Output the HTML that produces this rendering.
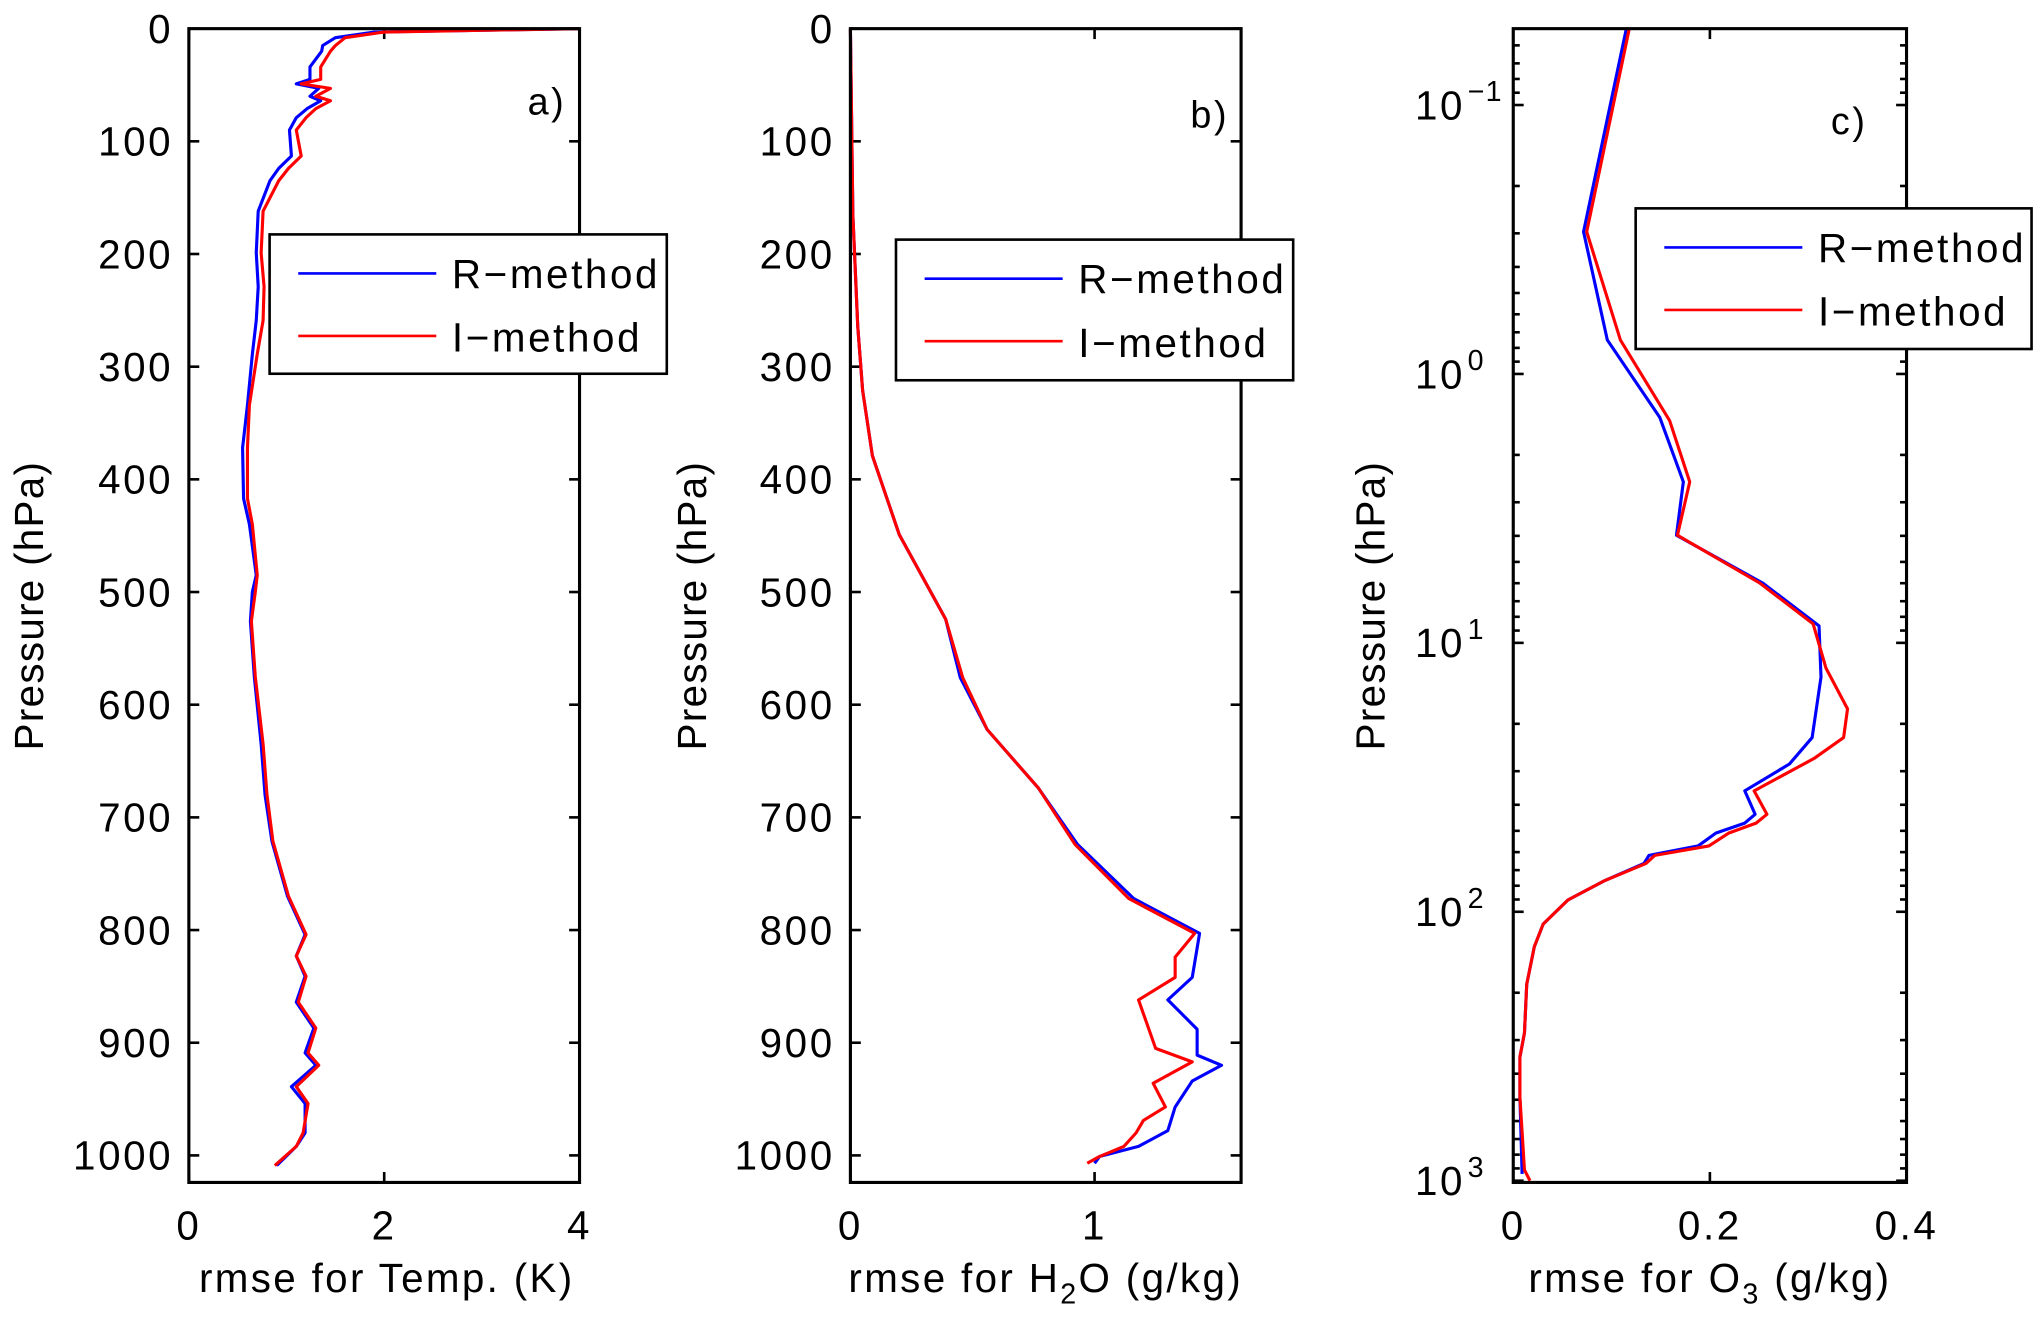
<!DOCTYPE html>
<html><head><meta charset="utf-8"><style>
html,body{margin:0;padding:0;background:#fff;}
svg{display:block;}
text{font-family:"Liberation Sans",sans-serif;fill:#000;}
</style></head><body>
<svg id="fig" width="2042" height="1324" viewBox="0 0 1568 1016.7" xmlns="http://www.w3.org/2000/svg"></svg>
<script>
// Panel a: temperature
const aP = [0,3,8,15,20,34,45,49,53,60,64,71,79,90,113,124,135,162,199,229,259,289,334,372,417,440,485,500,526,575,635,680,721,770,804,823,841,864,887,909,920,939,954,980,992,1009];
const aR = [4.0,1.9,1.5,1.37,1.36,1.24,1.24,1.1,1.33,1.24,1.35,1.21,1.1,1.03,1.05,0.92,0.83,0.71,0.69,0.71,0.69,0.65,0.6,0.55,0.56,0.62,0.69,0.65,0.63,0.67,0.74,0.78,0.85,1.01,1.19,1.1,1.19,1.1,1.28,1.19,1.3,1.05,1.19,1.19,1.1,0.9];
const aI = [4.0,2.0,1.6,1.5,1.45,1.35,1.35,1.15,1.45,1.3,1.45,1.3,1.2,1.1,1.15,1.02,0.92,0.76,0.74,0.77,0.76,0.7,0.62,0.6,0.6,0.65,0.7,0.68,0.64,0.68,0.76,0.8,0.86,1.02,1.2,1.1,1.2,1.12,1.3,1.22,1.33,1.1,1.22,1.17,1.1,0.88];
// Panel b: H2O
const bPR = [0,165,264,321,379,449,524,576,622,674,724,772,803,842,862,888,911,920,934,957,978,992,1001,1007];
const bR = [0,0.01,0.03,0.05,0.09,0.2,0.39,0.45,0.56,0.77,0.93,1.16,1.43,1.4,1.3,1.42,1.42,1.52,1.4,1.33,1.3,1.18,1.02,1.0];
const bPI = [0,165,264,321,379,449,524,576,622,674,724,772,803,824,842,862,905,917,936,957,969,980,992,1001,1007];
const bI = [0,0.01,0.03,0.05,0.09,0.2,0.39,0.46,0.56,0.77,0.92,1.14,1.41,1.33,1.33,1.18,1.25,1.4,1.24,1.29,1.2,1.17,1.12,1.02,0.97];
// Panel c: O3 (log pressure)
const cPR = [0.052,0.296,0.748,1.45,2.52,3.98,6.0,8.65,13.4,22.5,28.2,35.5,43.4,46.8,51,56.9,61.7,66.1,76.9,90.4,111,135,186,282,347,490,944];
const cR = [0.115,0.0715,0.0957,0.149,0.173,0.166,0.254,0.311,0.313,0.304,0.281,0.2355,0.246,0.2355,0.206,0.188,0.138,0.133,0.092,0.0556,0.0305,0.0214,0.0137,0.0114,0.0068,0.0068,0.009];
const cPI = [0.052,0.296,0.748,1.49,2.52,3.98,6.0,8.5,12.4,17.6,22.5,26.9,35.5,43.4,46.8,51,56.9,61.7,66.1,76.9,90.4,111,135,186,282,347,490,912,1000];
const cI = [0.118,0.0747,0.109,0.159,0.1795,0.167,0.251,0.305,0.318,0.340,0.336,0.306,0.245,0.258,0.247,0.219,0.199,0.144,0.135,0.092,0.0556,0.0305,0.0214,0.0137,0.0114,0.0068,0.0068,0.0114,0.017];
const aXTicks = [0,2,4];
const bXTicks = [0,1];
const cXTicks = [0,0.2,0.4];
const linTicks = [0,100,200,300,400,500,600,700,800,900,1000];
const logDecades = [-1,0,1,2,3];

const NS='http://www.w3.org/2000/svg';
const svg=document.getElementById('fig');
function el(tag,attrs,parent){const e=document.createElementNS(NS,tag);for(const k in attrs)e.setAttribute(k,attrs[k]);(parent||svg).appendChild(e);return e;}

const Y0=22,Y1=908;
function makeLin(x0,x1,xmax){return {x:v=>x0+(v/xmax)*(x1-x0),y:p=>Y0+(p/1024)*(Y1-Y0)};}
function makeLog(x0,x1,xmax,pmin,pmax){const l0=Math.log10(pmin),l1=Math.log10(pmax);return {x:v=>x0+(v/xmax)*(x1-x0),y:p=>Y0+(Math.log10(p)-l0)/(l1-l0)*(Y1-Y0)};}

function series(g,sc,ps,vs,color,name){
  let d='';ps.forEach((p,i)=>{d+=(i?'L':'M')+sc.x(vs[i]).toFixed(2)+','+sc.y(p).toFixed(2);});
  const path=el('path',{d:d,fill:'none',stroke:color,'stroke-width':2.4,'stroke-linejoin':'round'},g);
  
  
}
function axesBox(g,x0,x1,name){
  const r=el('rect',{x:x0,y:Y0,width:x1-x0,height:Y1-Y0,fill:'none',stroke:'#000','stroke-width':2.4},g);
  
  
}
function hTick(g,x0,x1,y,len){el('line',{x1:x0,y1:y,x2:x0+len,y2:y,stroke:'#000','stroke-width':2},g);el('line',{x1:x1,y1:y,x2:x1-len,y2:y,stroke:'#000','stroke-width':2},g);}
function txt(g,x,y,s,anchor,size,name,ls){const t=el('text',{x:x,y:y,'font-size':size,'text-anchor':anchor,'letter-spacing':(ls===undefined?2:ls)},g);t.textContent=s;return t;}
function legend(g,x,y,w,h,name){
  const lg=el('g',{},g);
  
  
  el('rect',{x:x,y:y,width:w,height:h,fill:'#fff',stroke:'#000','stroke-width':2},lg);
  el('line',{x1:x+22,y1:y+30,x2:x+128,y2:y+30,stroke:'#0000ff','stroke-width':2},lg);
  el('line',{x1:x+22,y1:y+78,x2:x+128,y2:y+78,stroke:'#ff0000','stroke-width':2},lg);
  txt(lg,x+140,y+41,'R\u2212method','start',31,'legend-entry-r-method',2);
  txt(lg,x+140,y+90,'I\u2212method','start',31,'legend-entry-i-method',2);
}
function xTicks(g,sc,ticks,fmt){
  ticks.forEach(v=>{const x=sc.x(v);el('line',{x1:x,y1:Y1,x2:x,y2:Y1-8,stroke:'#000','stroke-width':2},g);el('line',{x1:x,y1:Y0,x2:x,y2:Y0+8,stroke:'#000','stroke-width':2},g);
    txt(g,x,952,fmt(v),'middle',31,'x-tick-label');});
}

// Panel a
(function(){
  const g=el('g',{});
  const sc=makeLin(145,445,4);
  linTicks.forEach(p=>{hTick(g,145,445,sc.y(p),8);txt(g,133,sc.y(p)+11,String(p),'end',31,'y-tick-label');});
  xTicks(g,sc,aXTicks,v=>String(v));
  series(g,sc,aP,aR,'#0000ff','r-method-line');
  series(g,sc,aP,aI,'#ff0000','i-method-line');
  axesBox(g,145,445,'plot-area-a');
  txt(g,420,88,'a)','middle',29,'panel-label-a');
  legend(g,207,180,305,107,'legend-a');
  const t=txt(g,0,0,'Pressure (hPa)','middle',31,'y-axis-title',1);t.setAttribute('transform','translate(33,465) rotate(-90)');
  txt(g,297,992,'rmse for Temp. (K)','middle',31,'x-axis-title',1.8);
})();
// Panel b
(function(){
  const g=el('g',{});
  const sc=makeLin(653,953,1.6);
  linTicks.forEach(p=>{hTick(g,653,953,sc.y(p),8);txt(g,641,sc.y(p)+11,String(p),'end',31,'y-tick-label');});
  xTicks(g,sc,bXTicks,v=>String(v));
  series(g,sc,bPR,bR,'#0000ff','r-method-line');
  series(g,sc,bPI,bI,'#ff0000','i-method-line');
  axesBox(g,653,953,'plot-area-b');
  txt(g,929,98,'b)','middle',29,'panel-label-b');
  legend(g,688,184,305,108,'legend-b');
  const t=txt(g,0,0,'Pressure (hPa)','middle',31,'y-axis-title',1);t.setAttribute('transform','translate(542,465) rotate(-90)');
  const xt=txt(g,803,992,'rmse for H','middle',31,'x-axis-title',1.8);
  xt.innerHTML='rmse for H<tspan dy="9" font-size="22">2</tspan><tspan dy="-9">O (g/kg)</tspan>';
})();
// Panel c
(function(){
  const g=el('g',{});
  const sc=makeLog(1162,1464,0.4,0.052,1015);
  for(let d=-2;d<=3;d++){for(let m=1;m<10;m++){const p=m*Math.pow(10,d);if(p<0.052||p>1015)continue;hTick(g,1162,1464,sc.y(p),m===1?8:5);}}
  logDecades.forEach(d=>{const y=sc.y(Math.pow(10,d));txt(g,1125,y+11,'10','end',31,'y-tick-label');
    txt(g,1127,y-3,String(d).replace('-','\u2212'),'start',22,'y-tick-exponent',1);});
  xTicks(g,sc,cXTicks,v=>String(v));
  series(g,sc,cPR,cR,'#0000ff','r-method-line');
  series(g,sc,cPI,cI,'#ff0000','i-method-line');
  axesBox(g,1162,1464,'plot-area-c');
  txt(g,1420,103,'c)','middle',29,'panel-label-c');
  legend(g,1256,160,304,108,'legend-c');
  const t=txt(g,0,0,'Pressure (hPa)','middle',31,'y-axis-title',1);t.setAttribute('transform','translate(1063,465) rotate(-90)');
  const xt=txt(g,1313,992,'rmse for O','middle',31,'x-axis-title',1.8);
  xt.innerHTML='rmse for O<tspan dy="9" font-size="22">3</tspan><tspan dy="-9"> (g/kg)</tspan>';
})();
</script>
</body></html>
